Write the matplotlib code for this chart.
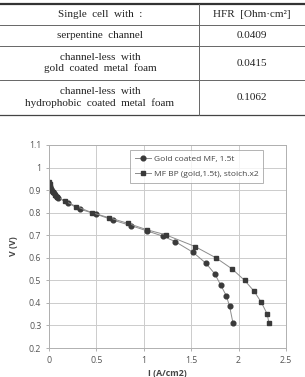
import numpy as np
import matplotlib
matplotlib.use("Agg")
import matplotlib.pyplot as plt
from matplotlib.lines import Line2D

# table content
col_headers = ["Single  cell  with  :", "HFR  [Ohm·cm²]"]
row_labels = ["serpentine  channel",
              "channel-less  with\ngold  coated  metal  foam",
              "channel-less  with\nhydrophobic  coated  metal  foam"]
hfr_values = ["0.0409", "0.0415", "0.1062"]

# polarization curves
gold_i = [0.005, 0.01, 0.02, 0.035, 0.05, 0.07, 0.1, 0.2, 0.33, 0.5, 0.67, 0.86,
          1.03, 1.2, 1.33, 1.52, 1.655, 1.75, 1.81, 1.87, 1.905, 1.94]
gold_v = [0.93, 0.915, 0.905, 0.895, 0.885, 0.875, 0.865, 0.842, 0.815, 0.793, 0.768, 0.743,
          0.72, 0.696, 0.672, 0.624, 0.576, 0.528, 0.48, 0.432, 0.385, 0.312]
stoich_i = [0.003, 0.008, 0.015, 0.025, 0.04, 0.06, 0.085, 0.165, 0.29, 0.454, 0.63, 0.83,
            1.035, 1.23, 1.54, 1.76, 1.93, 2.063, 2.165, 2.24, 2.30, 2.32]
stoich_v = [0.935, 0.925, 0.912, 0.9, 0.89, 0.88, 0.87, 0.852, 0.827, 0.8, 0.778, 0.753,
            0.724, 0.702, 0.65, 0.6, 0.551, 0.5, 0.451, 0.402, 0.352, 0.312]

W, H = 305, 377
fig = plt.figure(figsize=(W / 100, H / 100), dpi=100)

def fy(py):
    return 1 - py / H

def fx(px):
    return px / W

# --- table ---
serif = "Liberation Serif"
fig.add_artist(Line2D([0, 1], [fy(4), fy(4)], color="#333333", lw=1.6))
for py in [25, 46, 80]:
    fig.add_artist(Line2D([0, 1], [fy(py), fy(py)], color="#666666", lw=0.7))
fig.add_artist(Line2D([0, 1], [fy(115), fy(115)], color="#444444", lw=0.9))
fig.add_artist(Line2D([fx(199), fx(199)], [fy(4), fy(115)], color="#666666", lw=0.7))

row_centers = [14.5, 36, 63, 97.5]
fig.text(fx(100), fy(row_centers[0]), col_headers[0], family=serif, fontsize=8,
         ha="center", va="center", color="#222222")
fig.text(fx(252), fy(row_centers[0]), col_headers[1], family=serif, fontsize=8,
         ha="center", va="center", color="#222222")
for lab, val, yc in zip(row_labels, hfr_values, row_centers[1:]):
    fig.text(fx(100), fy(yc), lab, family=serif, fontsize=8, ha="center",
             va="center", color="#222222", linespacing=1.25)
    fig.text(fx(252), fy(yc), val, family=serif, fontsize=8, ha="center",
             va="center", color="#222222")

# --- chart ---
ax = fig.add_axes([fx(49), fy(348), fx(286) - fx(49), fy(145) - fy(348)])
sans = "Open Sans"
ax.plot(gold_i, gold_v, color="#8c8c8c", lw=0.7, marker="o", ms=3.4,
        mfc="#3a3a3a", mec="#3a3a3a", label="Gold coated MF, 1.5t")
ax.plot(stoich_i, stoich_v, color="#8c8c8c", lw=0.7, marker="s", ms=3.4,
        mfc="#3a3a3a", mec="#3a3a3a", label="MF BP (gold,1.5t), stoich.x2")

ax.set_xlim(0, 2.5)
ax.set_ylim(0.2, 1.1)
ax.set_xticks(np.arange(0, 2.51, 0.5))
ax.set_yticks(np.arange(0.2, 1.11, 0.1))
ax.set_xticklabels(["0", "0.5", "1", "1.5", "2", "2.5"])
ax.set_yticklabels(["0.2", "0.3", "0.4", "0.5", "0.6", "0.7", "0.8", "0.9", "1", "1.1"])
ax.grid(True, color="#cccccc", lw=0.7)
ax.set_axisbelow(True)
for s in ax.spines.values():
    s.set_color("#b0b0b0")
    s.set_linewidth(0.7)
ax.tick_params(axis="both", labelsize=6.3, labelcolor="#555555", color="#b0b0b0",
               length=2.5, width=0.7, pad=3)
for t in ax.get_xticklabels() + ax.get_yticklabels():
    t.set_family(sans)
ax.set_xlabel("I (A/cm2)", family=sans, fontsize=6.3, fontweight="bold",
              color="#444444", labelpad=3)
ax.set_ylabel("V (V)", family=sans, fontsize=6.3, fontweight="bold",
              color="#444444", labelpad=8)

leg = ax.legend(loc="upper right", bbox_to_anchor=(0.905, 0.975),
                prop={"family": sans, "size": 6.0}, frameon=True, fancybox=False,
                edgecolor="#a0a0a0", handlelength=2.0, borderpad=0.6,
                labelspacing=0.9, handletextpad=0.3, borderaxespad=0)
for t in leg.get_texts():
    t.set_color("#444444")
leg.get_frame().set_linewidth(0.7)

fig.savefig("out.png", dpi=100)
